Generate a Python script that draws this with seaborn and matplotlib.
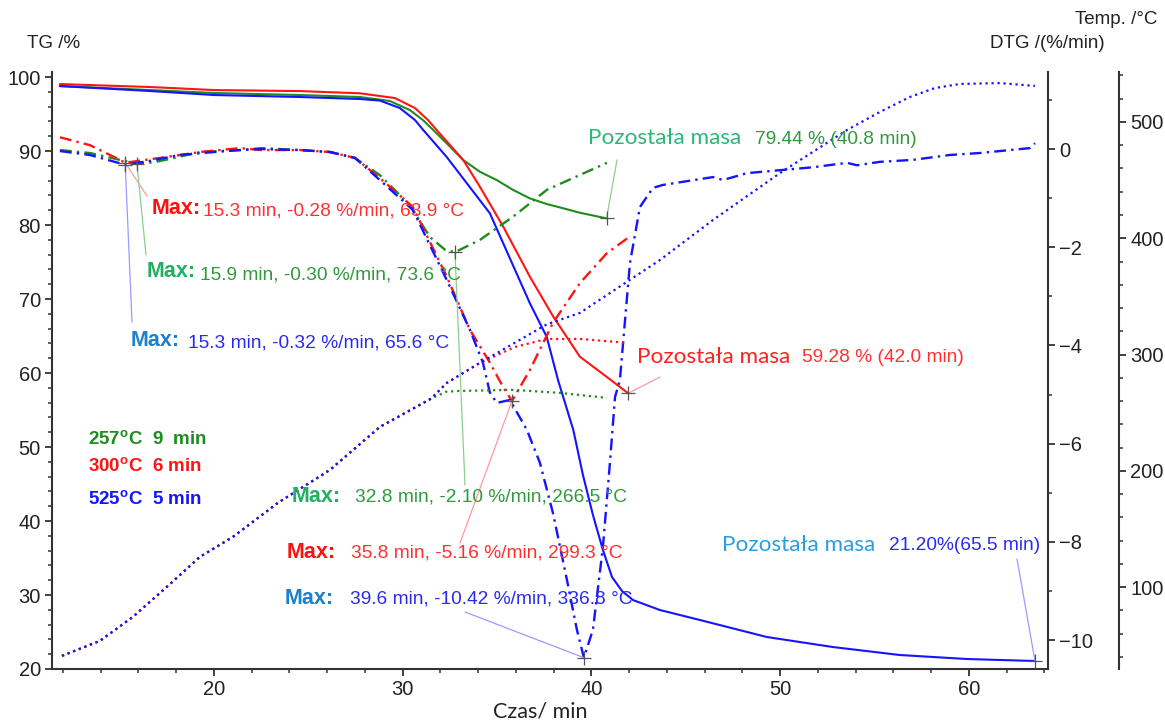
import numpy as np
import pandas as pd
import matplotlib
matplotlib.use("Agg")
import matplotlib.pyplot as plt
import seaborn as sns
from matplotlib.ticker import MultipleLocator

# ---------------- data ----------------
# TG (mass %), left axis
t_tg_green = [11.84, 16.61, 20.0, 24.56, 27.74, 29.32, 30.38, 31.07, 31.62, 32.33, 33.21, 34.09, 34.98,
              35.86, 36.74, 37.63, 38.51, 39.39, 40.8]
tg_green = [98.78, 98.24, 97.84, 97.57, 97.30, 96.76, 95.54, 94.19, 92.84, 91.04, 88.78, 87.2, 86.08,
            84.73, 83.6, 82.84, 82.26, 81.66, 80.9]

t_tg_red = [11.84, 16.61, 20.0, 24.56, 27.74, 29.59, 30.65, 31.34, 31.8, 33.21, 34.09, 35.33, 36.74,
            37.98, 39.39, 40.8, 41.95]
tg_red = [99.05, 98.65, 98.24, 98.1, 97.8, 97.16, 95.81, 94.19, 92.84, 88.78, 85.18, 79.77, 73.01,
          67.61, 62.2, 59.5, 57.26]

t_tg_blue = [11.84, 16.61, 20.0, 24.56, 27.74, 28.79, 29.85, 30.65, 31.09, 32.33, 34.62, 36.74, 37.63,
             38.23, 39.04, 39.55, 40.08, 40.61, 41.09, 41.62, 42.2, 43.63, 45.75, 49.3, 52.79, 56.34,
             59.89, 63.5]
tg_blue = [98.78, 98.11, 97.57, 97.30, 97.03, 96.82, 95.81, 94.19, 92.84, 89.2, 81.58, 69.42, 64.9,
           59.05, 52.3, 46.22, 40.81, 36.08, 32.43, 30.54, 29.32, 27.97, 26.62, 24.32, 22.97, 21.89,
           21.35, 21.08]

# DTG (%/min), first right axis
t_dtg_green = [11.84, 13.43, 15.02, 15.92, 16.8, 17.67, 19.26, 21.38, 22.5, 24.56, 26.15, 27.47, 28.79,
               30.38, 31.44, 32.24, 32.77, 34.09, 35.84, 37.64, 40.82]
dtg_green = [-0.02, -0.08, -0.22, -0.30, -0.27, -0.20, -0.06, -0.02, 0.02, -0.02, -0.06, -0.18, -0.53,
             -1.14, -1.79, -2.05, -2.10, -1.85, -1.38, -0.83, -0.28]

t_dtg_red = [11.84, 13.43, 15.02, 15.3, 16.0, 17.14, 19.26, 21.38, 22.5, 24.56, 26.15, 27.47, 28.79,
             30.54, 32.34, 33.56, 34.62, 35.31, 35.79, 36.74, 37.96, 39.39, 40.82, 41.93]
dtg_red = [0.24, 0.08, -0.22, -0.28, -0.24, -0.18, -0.06, 0.02, -0.02, -0.02, -0.06, -0.18, -0.59,
           -1.18, -2.60, -3.68, -4.35, -4.84, -5.13, -4.50, -3.54, -2.73, -2.12, -1.81]

t_dtg_blue = [11.84, 13.43, 15.3, 16.61, 18.2, 20.0, 21.38, 22.5, 24.56, 26.15, 27.47, 28.79, 30.54,
              32.34, 33.56, 34.25, 34.62, 34.99, 35.68, 36.58, 37.27, 37.96, 38.7, 39.23, 39.6,
              40.08, 40.61, 40.98, 41.25, 41.51, 42.04, 42.57, 43.26, 43.79, 46.44, 46.97, 48.24,
              49.99, 51.74, 53.54, 54.07, 55.28, 57.03, 58.99, 60.58, 63.23, 63.5]
dtg_blue = [-0.04, -0.12, -0.32, -0.24, -0.12, -0.06, -0.02, 0.0, -0.02, -0.06, -0.18, -0.63, -1.24,
            -2.67, -3.68, -4.35, -4.96, -5.17, -5.11, -5.72, -6.39, -7.41, -8.77, -9.79, -10.36,
            -9.79, -8.10, -6.39, -5.05, -4.70, -2.32, -1.18, -0.79, -0.73, -0.57, -0.63, -0.49,
            -0.43, -0.37, -0.28, -0.33, -0.26, -0.22, -0.12, -0.08, 0.02, 0.12]

# Temperature (deg C), second right axis
t_temp_common = [11.95, 13.96, 15.71, 17.51, 19.26, 21.01, 23.39, 26.15, 28.79, 31.5]
temp_common = [40.8, 53.7, 74.4, 100.2, 126.0, 143.2, 172.4, 200.8, 237.7, 262.0]

t_temp_green = t_temp_common + [32.3, 33.03, 35.84, 38.33, 40.82]
temp_green = temp_common + [268.0, 268.7, 269.6, 267.0, 262.7]

t_temp_red = t_temp_common + [32.34, 34.09, 35.95, 37.64, 39.39, 41.93]
temp_red = temp_common + [275.6, 292.8, 306.5, 313.4, 313.4, 310.0]

t_temp_blue = t_temp_common + [32.34, 34.09, 37.64, 39.39, 43.63, 46.44, 49.99, 53.54, 55.28, 56.87,
                               58.2, 59.52, 61.64, 63.5]
temp_blue = temp_common + [275.6, 292.8, 326.0, 335.8, 381.3, 415.7, 456.1, 493.1, 508.6, 521.5,
                           529.2, 532.7, 533.5, 531.0]

legend_labels = [r"257$^{\mathbf{o}}$C  9  min", r"300$^{\mathbf{o}}$C  6 min", r"525$^{\mathbf{o}}$C  5 min"]
max_early = ["15.3 min, -0.28 %/min, 63.9 °C", "15.9 min, -0.30 %/min, 73.6 °C", "15.3 min, -0.32 %/min, 65.6 °C"]
max_main = ["32.8 min, -2.10 %/min, 266.5 °C", "35.8 min, -5.16 %/min, 299.3 °C", "39.6 min, -10.42 %/min, 336.8 °C"]
residue = ["79.44 % (40.8 min)", "59.28 % (42.0 min)", "21.20%(65.5 min)"]

# ---------------- style ----------------
sns.set_theme(style="ticks")
plt.rcParams['font.family'] = ['Liberation Sans', 'DejaVu Sans']
plt.rcParams['axes.linewidth'] = 1.5
plt.rcParams['axes.edgecolor'] = '#333333'
plt.rcParams['mathtext.fontset'] = 'custom'
plt.rcParams['mathtext.rm'] = 'Liberation Sans'
plt.rcParams['mathtext.bf'] = 'Liberation Sans:bold'

GREEN, RED, BLUE = '#1e8c1e', '#ff1414', '#1414ff'
DASHDOT = (0, (5, 2.2, 1, 2.2))
DOT = (0, (1, 1.7))

W, H = 1165, 724
fig = plt.figure(figsize=(W / 100, H / 100), dpi=100)
fig.patch.set_facecolor('white')
ax = fig.add_axes([52 / W, 1 - 669 / H, (1048 - 52) / W, (669 - 72) / H])
ax2 = ax.twinx()
ax3 = ax.twinx()
for a in (ax, ax2, ax3):
    a.set_facecolor('none')
    a.grid(False)

def line(a, t, v, color, ls, lw, z):
    sns.lineplot(x=t, y=v, ax=a, color=color, linestyle=ls, linewidth=lw,
                 sort=False, estimator=None, legend=False, zorder=z)

# temperature (dotted)
line(ax3, t_temp_green, temp_green, GREEN, DOT, 1.6, 2)
line(ax3, t_temp_red, temp_red, RED, DOT, 1.6, 2)
line(ax3, t_temp_blue, temp_blue, BLUE, DOT, 1.6, 2)
# DTG (dash-dot)
line(ax2, t_dtg_green, dtg_green, GREEN, DASHDOT, 1.7, 3)
line(ax2, t_dtg_red, dtg_red, RED, DASHDOT, 1.7, 3)
line(ax2, t_dtg_blue, dtg_blue, BLUE, DASHDOT, 1.7, 3)
# TG (solid)
line(ax, t_tg_green, tg_green, GREEN, '-', 1.5, 4)
line(ax, t_tg_red, tg_red, RED, '-', 1.5, 4)
line(ax, t_tg_blue, tg_blue, BLUE, '-', 1.5, 4)

# limits
ax.set_xlim(11.42, 64.19)
ax.set_ylim(20, 100.68)
ax2.set_ylim(-10.59, 1.57)
ax3.set_ylim(29.5, 543)

# spines
ax.spines['top'].set_visible(False)
ax.spines['right'].set_visible(False)
for s in ('top', 'left', 'bottom'):
    ax2.spines[s].set_visible(False)
    ax3.spines[s].set_visible(False)
ax2.spines['right'].set_visible(True)
ax3.spines['right'].set_position(('outward', 71 * 0.72))
for a in (ax, ax2, ax3):
    for s in a.spines.values():
        s.set_linewidth(1.5)
        s.set_color('#333333')

ax.xaxis.set_minor_locator(MultipleLocator(2))
ax.yaxis.set_minor_locator(MultipleLocator(2))
ax2.yaxis.set_minor_locator(MultipleLocator(1))
ax3.yaxis.set_minor_locator(MultipleLocator(20))
ax.set_xticks([20, 30, 40, 50, 60])
ax.set_yticks([20, 30, 40, 50, 60, 70, 80, 90, 100])
ax2.set_yticks([0, -2, -4, -6, -8, -10])
ax3.set_yticks([100, 200, 300, 400, 500])

for a in (ax, ax2, ax3):
    a.tick_params(which='major', direction='out', length=5, width=1.3, color='#333333',
                  labelsize=14.5, labelcolor='#222222', pad=3)
    a.tick_params(which='minor', direction='out', length=3, width=1.1, color='#333333')
ax.set_xlabel('')
ax.set_ylabel('')
ax2.set_ylabel('')
ax3.set_ylabel('')

def px(x, y):
    return (x / W, 1 - y / H)

def ftext(x, y, s, **kw):
    fig.text(x / W, 1 - y / H, s, va='center', ha='left', **kw)

# axis titles
ftext(27, 43, 'TG /%', fontsize=13.5, color='#222222')
ftext(990, 43, 'DTG /(%/min)', fontsize=13.5, color='#222222')
ftext(1075, 20, 'Temp. /°C', fontsize=13.5, color='#222222')
fig.text(540 / W, 1 - 712 / H, 'Czas/ min', ha='center', va='center', fontsize=15.5,
         family=['Lato', 'DejaVu Sans'], color='#222222')

# legend texts
for (y, lab, c) in zip([440, 467, 500], legend_labels, ['#1e8c1e', '#ff1414', '#1414ff']):
    ftext(88, y, lab, fontsize=13.5, fontweight='bold', color=c)

# markers
grey = '#555555'
i_g = int(np.argmin(np.array(dtg_green)[:8]))
i_r = int(np.argmin(np.array(dtg_red)[:8]))
i_b = int(np.argmin(np.array(dtg_blue)[:8]))
early_pts = [(t_dtg_red[i_r], dtg_red[i_r]), (t_dtg_green[i_g], dtg_green[i_g]), (t_dtg_blue[i_b], dtg_blue[i_b])]
main_pts = [(t_dtg_green[int(np.argmin(dtg_green))], min(dtg_green)),
            (t_dtg_red[int(np.argmin(dtg_red))], min(dtg_red)),
            (t_dtg_blue[int(np.argmin(dtg_blue))], min(dtg_blue))]
end_pts = [(t_tg_green[-1], tg_green[-1]), (t_tg_red[-1], tg_red[-1]), (t_tg_blue[-1], tg_blue[-1])]

sns.scatterplot(x=[p[0] for p in early_pts + main_pts], y=[p[1] for p in early_pts + main_pts],
                ax=ax2, marker='+', s=100, color=grey, linewidth=0.9, zorder=6, legend=False)
sns.scatterplot(x=[p[0] for p in end_pts], y=[p[1] for p in end_pts],
                ax=ax, marker='+', s=100, color=grey, linewidth=0.9, zorder=6, legend=False)

light = {'g': '#8ccf8c', 'r': '#ff9a9a', 'b': '#9a9aff'}

def leader(a, pt, end, col):
    a.annotate('', xy=pt, xycoords='data', xytext=px(*end), textcoords='figure fraction',
               arrowprops=dict(arrowstyle='-', color=col, lw=0.9, shrinkA=0, shrinkB=0), zorder=5)

# leaders
leader(ax2, early_pts[0], (147, 196), light['r'])
leader(ax2, early_pts[1], (146, 255), light['g'])
leader(ax2, early_pts[2], (132, 322), light['b'])
leader(ax2, main_pts[0], (465, 485), light['g'])
leader(ax2, main_pts[1], (460, 543), light['r'])
leader(ax2, main_pts[2], (465, 612), light['b'])
leader(ax, end_pts[0], (617, 160), light['g'])
leader(ax, end_pts[1], (660, 377), light['r'])
leader(ax, end_pts[2], (1017, 559), light['b'])

# "Max" annotations
MAXF = 15.5
VALF = 13.8
ftext(152, 209, 'Max:', fontsize=MAXF, fontweight='bold', color='#ff1010')
ftext(203, 211, max_early[0], fontsize=VALF, color='#ff3030')
ftext(147, 272, 'Max:', fontsize=MAXF, fontweight='bold', color='#22b060')
ftext(200, 275, max_early[1], fontsize=VALF, color='#2f9a3c')
ftext(131, 340, 'Max:', fontsize=MAXF, fontweight='bold', color='#1c80cc')
ftext(188, 343, max_early[2], fontsize=VALF, color='#2a2aee')

ftext(292, 496, 'Max:', fontsize=MAXF, fontweight='bold', color='#22b060')
ftext(355, 497, max_main[0], fontsize=VALF, color='#2f9a3c')
ftext(287, 553, 'Max:', fontsize=MAXF, fontweight='bold', color='#ff1010')
ftext(351, 553, max_main[1], fontsize=VALF, color='#ff3030')
ftext(285, 598, 'Max:', fontsize=MAXF, fontweight='bold', color='#1c80cc')
ftext(350, 599, max_main[2], fontsize=VALF, color='#2a2aee')

# residue annotations
POZF = 16.2
ftext(588, 138, 'Pozostała masa', fontsize=POZF, color='#2ab87a', family=['Lato', 'DejaVu Sans'])
ftext(755, 139, residue[0], fontsize=VALF, color='#2f9a3c')
ftext(637, 357, 'Pozostała masa', fontsize=POZF, color='#ff2020', family=['Lato', 'DejaVu Sans'])
ftext(802, 358, residue[1], fontsize=VALF, color='#ff3030')
ftext(722, 545, 'Pozostała masa', fontsize=POZF, color='#2a9ee0', family=['Lato', 'DejaVu Sans'])
ftext(889, 545, residue[2], fontsize=VALF, color='#2a2aee')

fig.savefig('out.png', dpi=100, facecolor='white')
